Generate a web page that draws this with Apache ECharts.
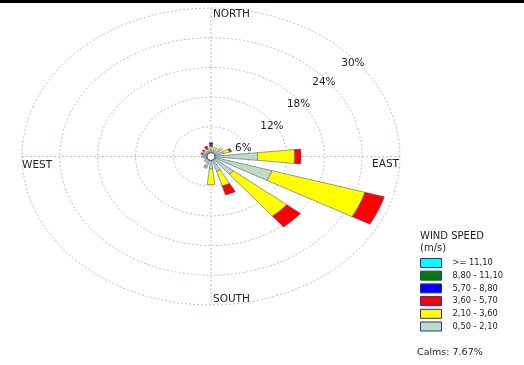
<!DOCTYPE html>
<html>
<head>
<meta charset="utf-8">
<script src="https://cdn.jsdelivr.net/npm/echarts@6/dist/echarts.min.js"></script>
<style>
  html, body { margin: 0; padding: 0; background: #ffffff; }
  #chart { width: 524px; height: 365px; }
</style>
</head>
<body>
<div id="chart"></div>
<script>
// Wind rose: frequency (%) of wind from 16 directions, split by speed class.
const directions = ['N', 'NNE', 'NE', 'ENE', 'E', 'ESE', 'SE', 'SSE',
                    'S', 'SSW', 'SW', 'WSW', 'W', 'WNW', 'NW', 'NNW'];

// Speed classes, drawn from the centre outwards (legend lists them reversed).
const speedClasses = ['0,50 - 2,10', '2,10 - 3,60', '3,60 - 5,70',
                      '5,70 - 8,80', '8,80 - 11,10', '>= 11,10'];

// Frequency (%) of each speed class per direction, N .. NNW.
const freq_050_210  = [1.3, 1.3, 1.8, 2.1, 7.4, 10.1, 4.6, 3.1, 2.5, 2.2, 1.4, 1.1, 1.2, 1.0, 1.0, 1.0];
const freq_210_360  = [0.7, 0.6, 0.5, 1.0, 5.9, 15.4, 10.9, 3.1, 3.2, 0.3, 0, 0, 0.3, 0.4, 0.5, 0.6];
const freq_360_570  = [0.5, 0, 0, 0.3, 1.0, 3.2, 2.8, 1.9, 0, 0, 0, 0, 0, 0.3, 0.3, 0.6];
const freq_570_880  = [0.3, 0, 0, 0, 0, 0, 0, 0, 0, 0, 0, 0, 0, 0, 0, 0];
const freq_880_1110 = [0, 0, 0, 0, 0, 0, 0, 0, 0, 0, 0, 0, 0, 0, 0, 0];
const freq_ge_1110  = [0, 0, 0, 0, 0, 0, 0, 0, 0, 0, 0, 0, 0, 0, 0, 0];

const ringValues = [6, 12, 18, 24, 30];
const ringLabels = ['6%', '12%', '18%', '24%', '30%'];
const compassLabels = ['NORTH', 'EAST', 'SOUTH', 'WEST'];
const calmsPercent = 7.67;

// ---- styling ----
const classColors = ['#c0dcc0', '#ffff00', '#ff0000', '#0000ff', '#008000', '#00ffff'];
const ringBearings = [72, 58, 53, 50, 50];   // where each ring label sits
const HALF_WIDTH = 6;                          // half angular width of a petal, degrees
const RMAX = 30;
const FONT = 'DejaVu Sans';
const TEXT = '#1c1c30';

const classSeriesData = [freq_050_210, freq_210_360, freq_360_570,
                         freq_570_880, freq_880_1110, freq_ge_1110];

// cumulative [direction, start, end] segments per class
const cumulative = directions.map(() => 0);
const segmentData = classSeriesData.map(arr => {
  const out = [];
  arr.forEach((v, i) => {
    if (v > 0) out.push([i, cumulative[i], cumulative[i] + v]);
    cumulative[i] += v;
  });
  return out;
});

function toXY(r, bearingDeg) {
  const a = bearingDeg * Math.PI / 180;
  return [r * Math.sin(a), r * Math.cos(a)];
}

function renderPetal(params, api) {
  const d = api.value(0), r0 = api.value(1), r1 = api.value(2);
  const c = d * 360 / directions.length;
  const steps = 8;
  const pts = [];
  for (let i = 0; i <= steps; i++) {
    pts.push(api.coord(toXY(r1, c - HALF_WIDTH + 2 * HALF_WIDTH * i / steps)));
  }
  for (let i = steps; i >= 0; i--) {
    pts.push(api.coord(toXY(r0, c - HALF_WIDTH + 2 * HALF_WIDTH * i / steps)));
  }
  return {
    type: 'polygon',
    shape: { points: pts },
    style: { fill: api.visual('color'), stroke: '#4b5a8c', lineWidth: 0.6 }
  };
}

function renderRing(params, api) {
  const r = api.value(0);
  const pts = [];
  for (let b = 0; b <= 360; b += 3) pts.push(api.coord(toXY(r, b)));
  return {
    type: 'polyline',
    shape: { points: pts },
    style: { fill: null, stroke: '#b4ccb4', lineWidth: 1, lineDash: [2, 2] }
  };
}

function renderFrame(params, api) {
  const n = api.coord([0, RMAX]), s = api.coord([0, -RMAX]);
  const w = api.coord([-RMAX, 0]), e = api.coord([RMAX, 0]);
  const lineStyle = { stroke: '#b4ccb4', lineWidth: 1, lineDash: [2, 2] };
  const txt = (text, x, y, align) => ({
    type: 'text',
    style: { text, x, y, align, verticalAlign: 'middle', font: '10.5px "' + FONT + '"', fill: TEXT }
  });
  return {
    type: 'group',
    children: [
      { type: 'line', shape: { x1: n[0], y1: n[1], x2: s[0], y2: s[1] }, style: lineStyle },
      { type: 'line', shape: { x1: w[0], y1: w[1], x2: e[0], y2: e[1] }, style: lineStyle },
      txt(compassLabels[0], n[0] + 2, n[1] + 6, 'left'),
      txt(compassLabels[1], e[0] - 1, e[1] + 8, 'right'),
      txt(compassLabels[2], s[0] + 2, s[1] - 5.5, 'left'),
      txt(compassLabels[3], w[0], w[1] + 8.5, 'left')
    ]
  };
}

function renderRingLabel(params, api) {
  const i = params.dataIndex;
  const r = api.value(0);
  const p = api.coord(toXY(r - 0.6, ringBearings[i]));
  return {
    type: 'text',
    style: {
      text: ringLabels[i], x: p[0], y: p[1], align: 'center', verticalAlign: 'middle',
      font: '10.5px "' + FONT + '"', fill: TEXT
    }
  };
}

function renderCalm(params, api) {
  const c = api.coord([0, 0]);
  return {
    type: 'circle',
    shape: { cx: c[0], cy: c[1], r: 4 },
    style: { fill: '#ffffff', stroke: '#3a4a7a', lineWidth: 1 }
  };
}

const chart = echarts.init(document.getElementById('chart'), null, { renderer: 'canvas' });

const series = [
  { type: 'custom', name: 'rings', silent: true, renderItem: renderRing,
    data: ringValues.map(v => [v]), z: 1 },
  { type: 'custom', name: 'frame', silent: true, renderItem: renderFrame,
    data: [[0]], z: 1 }
];
speedClasses.forEach((name, k) => {
  series.push({
    type: 'custom', name, renderItem: renderPetal,
    itemStyle: { color: classColors[k] },
    data: segmentData[k], z: 3
  });
});
series.push({ type: 'custom', name: 'calms', silent: true, renderItem: renderCalm,
  data: [[calmsPercent]], z: 4 });
series.push({ type: 'custom', name: 'ringLabels', silent: true, renderItem: renderRingLabel,
  data: ringValues.map(v => [v]), z: 5 });

chart.setOption({
  backgroundColor: '#ffffff',
  animation: false,
  grid: { left: 22, top: 8, width: 378, height: 297, containLabel: false },
  xAxis: { type: 'value', min: -RMAX, max: RMAX, show: false },
  yAxis: { type: 'value', min: -RMAX, max: RMAX, show: false },
  legend: {
    orient: 'vertical',
    left: 420,
    top: 258,
    padding: 0,
    data: speedClasses.slice().reverse(),
    icon: 'rect',
    itemWidth: 21,
    itemHeight: 9,
    itemGap: 2.7,
    selectedMode: false,
    itemStyle: { borderColor: '#2e2e9a', borderWidth: 1 },
    textStyle: { fontFamily: FONT, fontSize: 8.3, color: TEXT, lineHeight: 9, padding: [0, 0, 0, 6] }
  },
  graphic: [
    { type: 'rect', left: 0, top: 0, shape: { width: 524, height: 3 }, style: { fill: '#000000' } },
    { type: 'text', left: 420, top: 231,
      style: { text: 'WIND SPEED', font: '10px "' + FONT + '"', fill: TEXT } },
    { type: 'text', left: 420, top: 243,
      style: { text: '(m/s)', font: '10px "' + FONT + '"', fill: TEXT } },
    { type: 'text', left: 417, top: 348,
      style: { text: 'Calms: ' + calmsPercent.toFixed(2) + '%', font: '9.5px "' + FONT + '"', fill: TEXT } }
  ],
  series
});
</script>
</body>
</html>
